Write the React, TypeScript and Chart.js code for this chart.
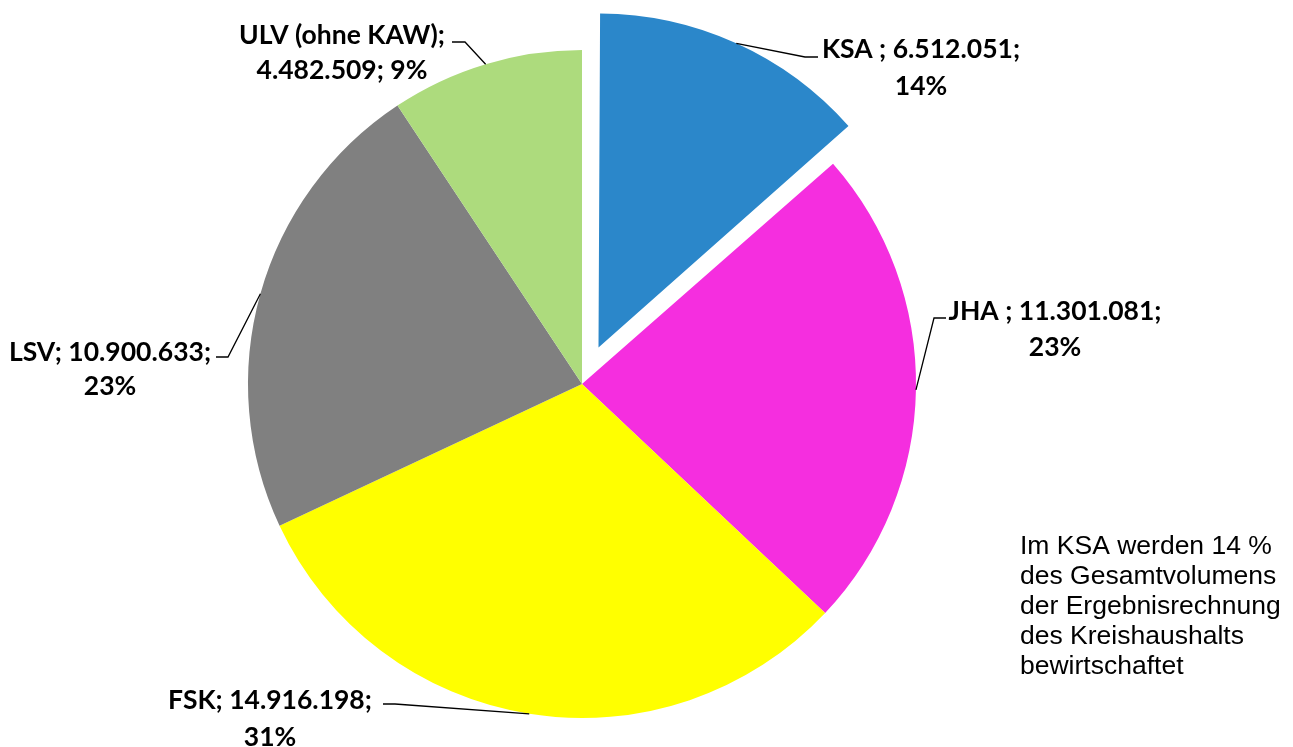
import React, { useEffect, useRef } from "react";
import { Chart, registerables } from "chart.js";
Chart.register(...registerables);

// ---- data ----
const categories = ["KSA ", "JHA ", "FSK", "LSV", "ULV (ohne KAW)"];
const values = [6512051, 11301081, 14916198, 10900633, 4482509];
const breakAfter = ["value", "value", "value", "value", "name"];
const noteLines = [
  "Im KSA werden 14 %",
  "des Gesamtvolumens",
  "der Ergebnisrechnung",
  "des Kreishaushalts",
  "bewirtschaftet",
];

// ---- styles / layout ----
const colors = ["#2B87CA", "#F52EDF", "#FFFF00", "#808080", "#ADDB7D"];
// Chart.js translates an arc by offset / 4
const offsets = [160, 0, 0, 0, 0];
const PIE_RADIUS = 334;
// leader elbow point, horizontal end point, label centre x, line y's
const labelLayout = [
  { ex: 805, ey: 57, hx: 818, cx: 921, y1: 49, y2: 86 },
  { ex: 934, ey: 318, hx: 946, cx: 1055, y1: 311, y2: 347 },
  { ex: 395, ey: 704, hx: 383, cx: 270, y1: 700, y2: 737 },
  { ex: 228, ey: 357, hx: 216, cx: 110, y1: 352, y2: 386 },
  { ex: 465, ey: 42, hx: 452, cx: 342, y1: 35, y2: 70 },
];
const LABEL_FONT = "bold 26.5px Lato";
const NOTE_FONT = "26.5px 'Liberation Sans', Arial, sans-serif";

function fmt(n: number): string {
  const s = Math.round(n).toString();
  let out = "";
  for (let i = 0; i < s.length; i++) {
    if (i > 0 && (s.length - i) % 3 === 0) out += ".";
    out += s[i];
  }
  return out;
}

function radiusGrowth(arc: any): number {
  const t = (arc.options.offset || 0) / 4;
  const fix = 1 - Math.sin(Math.min(Math.PI, arc.circumference || 0));
  return t * fix;
}

const labelPlugin = {
  id: "pieLabels",
  beforeDatasetsDraw(chart: any) {
    // keep exploded slices at the same radius as the rest (pure translation)
    const meta = chart.getDatasetMeta(0);
    const R = meta.controller.outerRadius;
    meta.data.forEach((arc: any) => {
      arc.outerRadius = R - radiusGrowth(arc);
    });
  },
  afterDraw(chart: any) {
    const ctx = chart.ctx as CanvasRenderingContext2D;
    const meta = chart.getDatasetMeta(0);
    const R = meta.controller.outerRadius;
    const data = chart.data.datasets[0].data as number[];
    const total = data.reduce((a, b) => a + b, 0);
    ctx.save();
    meta.data.forEach((arc: any, i: number) => {
      const p = arc.getProps(["x", "y", "startAngle", "endAngle"], true);
      const mid = (p.startAngle + p.endAngle) / 2;
      const t = (arc.options.offset || 0) / 4;
      const ax = p.x + Math.cos(mid) * (R + t);
      const ay = p.y + Math.sin(mid) * (R + t);
      const L = labelLayout[i];
      ctx.strokeStyle = "#000";
      ctx.lineWidth = 1.3;
      ctx.beginPath();
      ctx.moveTo(ax, ay);
      ctx.lineTo(L.ex, L.ey);
      ctx.lineTo(L.hx, L.ey);
      ctx.stroke();

      const name = chart.data.labels[i] as string;
      const pct = Math.round((data[i] / total) * 100) + "%";
      let l1: string, l2: string;
      if (breakAfter[i] === "name") {
        l1 = name + ";";
        l2 = fmt(data[i]) + "; " + pct;
      } else {
        l1 = name + "; " + fmt(data[i]) + ";";
        l2 = pct;
      }
      ctx.fillStyle = "#000";
      ctx.font = LABEL_FONT;
      ctx.textAlign = "center";
      ctx.textBaseline = "middle";
      ctx.fillText(l1, L.cx, L.y1);
      ctx.fillText(l2, L.cx, L.y2);
    });

    ctx.font = NOTE_FONT;
    ctx.textAlign = "left";
    ctx.textBaseline = "middle";
    ctx.fillStyle = "#000";
    noteLines.forEach((t, k) => ctx.fillText(t, 1020, 547 + k * 30));
    ctx.restore();
  },
};

export default function App() {
  const ref = useRef<HTMLCanvasElement | null>(null);
  useEffect(() => {
    if (!ref.current) return;
    const chart = new Chart(ref.current, {
      type: "pie",
      data: {
        labels: categories,
        datasets: [
          {
            data: values,
            backgroundColor: colors,
            borderWidth: 0,
            offset: offsets,
            hoverOffset: 0,
          } as any,
        ],
      },
      options: {
        animation: false,
        responsive: false,
        events: [],
        radius: PIE_RADIUS,
        layout: { padding: { top: 30, bottom: 9, left: 200, right: 329 } },
        plugins: { legend: { display: false }, tooltip: { enabled: false } },
      } as any,
      plugins: [labelPlugin],
    });
    return () => chart.destroy();
  }, []);
  return (
    <div style={{ position: "absolute", left: 0, top: 0, width: 1293, height: 747, background: "#fff" }}>
      <canvas ref={ref} width={1293} height={747} style={{ display: "block" }} />
    </div>
  );
}
